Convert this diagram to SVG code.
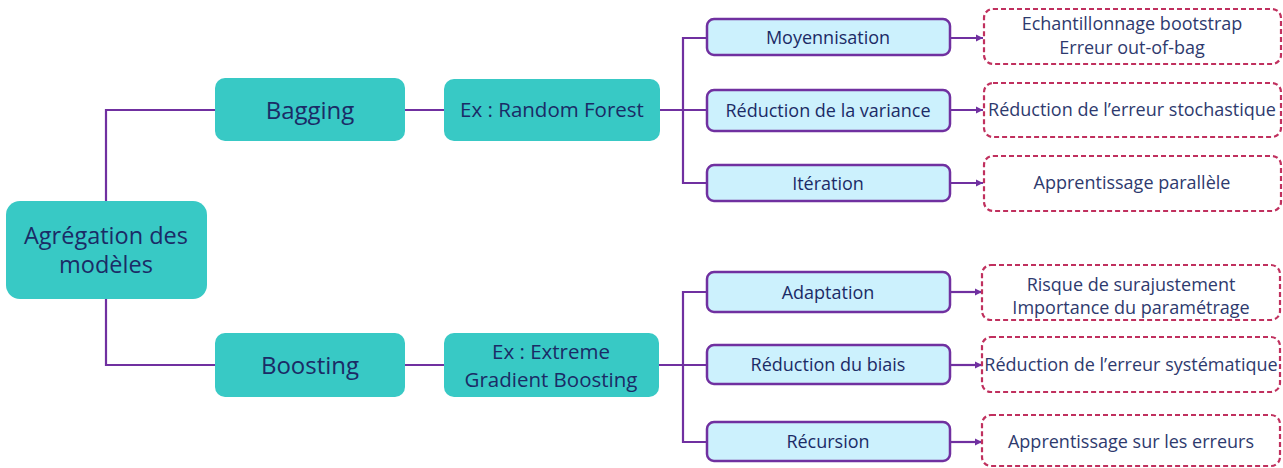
<svg xmlns="http://www.w3.org/2000/svg" width="1283" height="468" viewBox="0 0 1283 468">
<defs>
<marker id="arr" markerWidth="8" markerHeight="8" refX="7" refY="4" orient="auto" markerUnits="userSpaceOnUse">
<path d="M0,0.5 L7,4 L0,7.5 Z" fill="#7030A0"/>
</marker>
<style>
.teal{fill:#38C9C5;}
.mid{fill:#CCF1FD;stroke:#7030A0;stroke-width:2.5;}
.dash{fill:#FFFFFF;stroke:#C0305E;stroke-width:2.2;stroke-dasharray:5 3;}
.t{font-family:"Open Sans","Noto Sans",sans-serif;fill:#1B2B66;text-anchor:middle;}
.root{font-size:23.5px;}
.big{font-size:24px;}
.med{font-size:20.5px;}
.sm{font-size:18px;}
.d{font-family:"Open Sans","Noto Sans",sans-serif;fill:#2E3A6E;text-anchor:middle;font-size:18px;}
.c{fill:none;stroke:#7030A0;stroke-width:2.2;}
</style>
</defs>
<rect width="1283" height="468" fill="#FFFFFF"/>
<g id="connectors">
<path class="c" d="M106,201 V110 H215"/>
<path class="c" d="M106,299 V365 H215"/>
<path class="c" d="M405,110 H444"/>
<path class="c" d="M405,365 H444"/>
<path class="c" d="M660,110 H707"/>
<path class="c" d="M707,38 H683 V183 H707"/>
<path class="c" d="M659,365 H707"/>
<path class="c" d="M707,292 H683 V442 H707"/>
<path class="c" d="M950,38 H983" marker-end="url(#arr)"/>
<path class="c" d="M950,110 H983" marker-end="url(#arr)"/>
<path class="c" d="M950,183 H983" marker-end="url(#arr)"/>
<path class="c" d="M950,292 H982" marker-end="url(#arr)"/>
<path class="c" d="M950,365 H982" marker-end="url(#arr)"/>
<path class="c" d="M950,442 H982" marker-end="url(#arr)"/>
</g>
<g id="root">
<rect class="teal" x="6" y="201" width="201" height="98" rx="14"/>
<text class="t root" x="106" y="244">Agrégation des</text>
<text class="t root" x="106" y="273">modèles</text>
</g>
<g id="bagging">
<rect class="teal" x="215" y="78" width="190" height="63" rx="10"/>
<text class="t big" x="310" y="119">Bagging</text>
</g>
<g id="boosting">
<rect class="teal" x="215" y="333" width="190" height="64" rx="10"/>
<text class="t big" x="310" y="374">Boosting</text>
</g>
<g id="randomforest">
<rect class="teal" x="444" y="79" width="216" height="62" rx="10"/>
<text class="t med" x="552" y="117">Ex : Random Forest</text>
</g>
<g id="xgboost">
<rect class="teal" x="444" y="333" width="215" height="64" rx="10"/>
<text class="t med" x="551" y="359">Ex : Extreme</text>
<text class="t med" x="551" y="387">Gradient Boosting</text>
</g>
<g id="moyennisation">
<rect class="mid" x="707" y="19" width="243" height="36" rx="7"/>
<text class="t sm" x="828" y="44">Moyennisation</text>
</g>
<g id="reduction-variance">
<rect class="mid" x="707" y="90" width="243" height="41" rx="7"/>
<text class="t sm" x="828" y="117">Réduction de la variance</text>
</g>
<g id="iteration">
<rect class="mid" x="707" y="165" width="243" height="36" rx="7"/>
<text class="t sm" x="828" y="190">Itération</text>
</g>
<g id="adaptation">
<rect class="mid" x="707" y="272" width="243" height="40" rx="7"/>
<text class="t sm" x="828" y="299">Adaptation</text>
</g>
<g id="reduction-biais">
<rect class="mid" x="707" y="345" width="243" height="39" rx="7"/>
<text class="t sm" x="828" y="371">Réduction du biais</text>
</g>
<g id="recursion">
<rect class="mid" x="707" y="422" width="243" height="39" rx="7"/>
<text class="t sm" x="828" y="448">Récursion</text>
</g>
<g id="bootstrap">
<rect class="dash" x="984" y="9" width="297" height="55" rx="9"/>
<text class="d" x="1132" y="30">Echantillonnage bootstrap</text>
<text class="d" x="1132" y="54">Erreur out-of-bag</text>
</g>
<g id="stochastique">
<rect class="dash" x="984" y="83" width="297" height="54" rx="9"/>
<text class="d" x="1132" y="116">Réduction de l’erreur stochastique</text>
</g>
<g id="parallele">
<rect class="dash" x="984" y="156" width="297" height="55" rx="9"/>
<text class="d" x="1132" y="189">Apprentissage parallèle</text>
</g>
<g id="surajustement">
<rect class="dash" x="982" y="265" width="298" height="55" rx="9"/>
<text class="d" x="1131" y="291">Risque de surajustement</text>
<text class="d" x="1131" y="314">Importance du paramétrage</text>
</g>
<g id="systematique">
<rect class="dash" x="982" y="337" width="298" height="55" rx="9"/>
<text class="d" x="1131" y="371">Réduction de l’erreur systématique</text>
</g>
<g id="erreurs">
<rect class="dash" x="982" y="415" width="298" height="51" rx="9"/>
<text class="d" x="1131" y="448">Apprentissage sur les erreurs</text>
</g>
</svg>
